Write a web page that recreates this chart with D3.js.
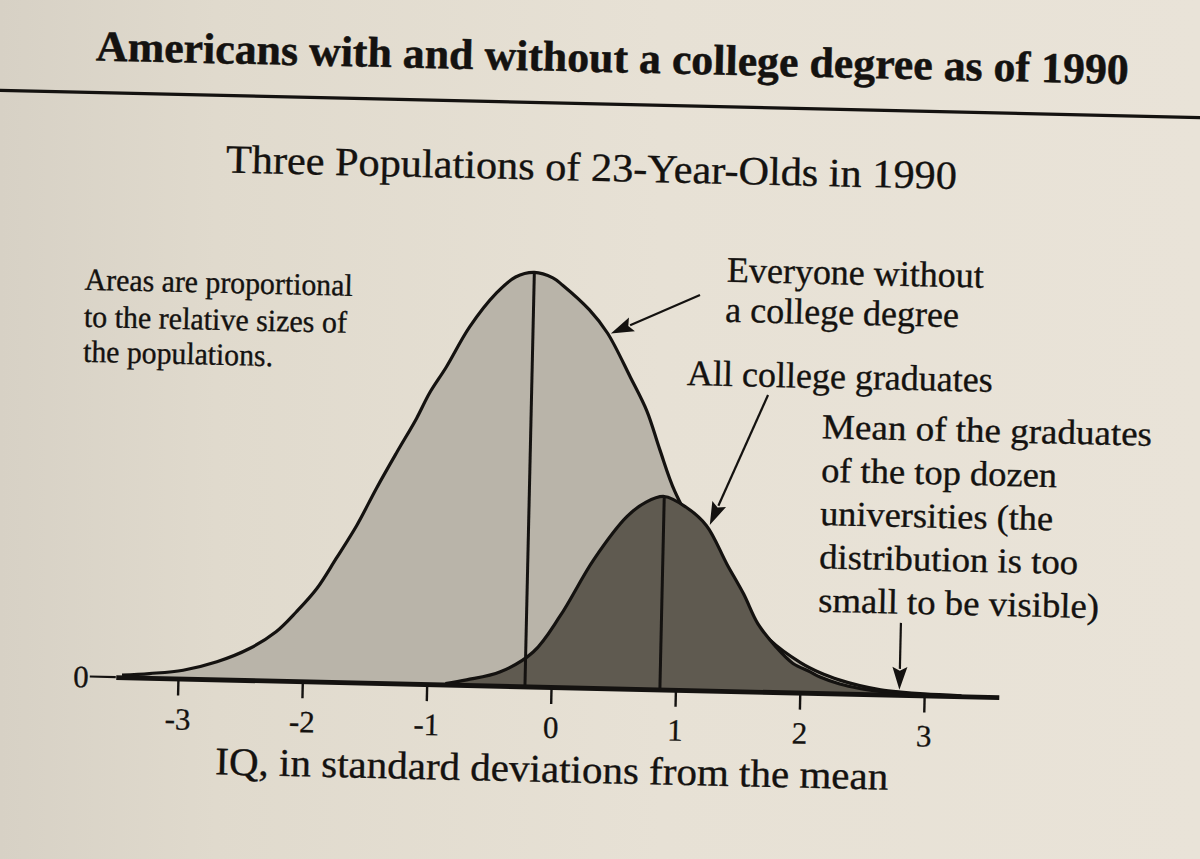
<!DOCTYPE html>
<html>
<head>
<meta charset="utf-8">
<script src="https://cdn.jsdelivr.net/npm/d3@7"></script>
<style>
  html, body { margin: 0; padding: 0; background: #e4ded2; }
  svg { display: block; }
</style>
</head>
<body>
<svg id="chart" width="1200" height="859"></svg>
<script>
// ---------------- DATA ----------------
const titleText = "Americans with and without a college degree as of 1990";
const subtitleText = "Three Populations of 23-Year-Olds in 1990";
const xAxisTitle = "IQ, in standard deviations from the mean";
const xTicks = [-3, -2, -1, 0, 1, 2, 3];
const tickLabels = ["-3", "-2", "-1", "0", "1", "2", "3"];

// Everyone without a college degree: IQ (SD units) and curve height (relative units)
const noDegreeX = [-3.45, -3.23, -2.96, -2.69, -2.43, -2.22, -2.06, -1.90, -1.75, -1.59, -1.44, -1.28, -1.13, -1.03, -0.90, -0.72, -0.51, -0.36, -0.21, -0.06, 0.02, 0.24, 0.39, 0.58, 0.72, 0.83, 0.96, 1.20, 1.50, 1.75, 2.00, 2.16, 2.32, 2.48, 2.65, 2.81, 3.00, 3.30];
const noDegreeY = [2, 4.3, 8.4, 17.6, 31.6, 48.9, 69.4, 93.1, 123.6, 157.3, 194.5, 231.6, 265.4, 291.1, 317.5, 358.1, 392.7, 409, 414, 409, 401.9, 377.8, 354.9, 311.7, 278, 240, 198, 145, 88, 52, 30, 20.3, 13.4, 8.3, 4.6, 2.8, 1.5, 0.5];

// All college graduates
const gradX = [-0.85, -0.68, -0.41, -0.15, 0.06, 0.32, 0.58, 0.73, 0.875, 1.05, 1.22, 1.39, 1.53, 1.65, 1.80, 1.94, 2.08, 2.16, 2.32, 2.48, 2.64, 2.80, 3.00, 3.20];
const gradY = [1, 5.2, 14, 34.5, 71.2, 128.3, 172.2, 187, 193, 183, 164.8, 127, 97.5, 68, 45.2, 29, 21, 16, 9.5, 5.5, 3, 1.5, 0.6, 0.2];

const means = [-0.21, 0.875];          // vertical mean lines: no degree, graduates
const meanHeights = [414, 193];
const topDozenMean = 2.8;              // mean of graduates of the top dozen universities

const noteLeft = ["Areas are proportional", "to the relative sizes of", "the populations."];
const noteNoDegree = ["Everyone without", "a college degree"];
const noteGrad = ["All college graduates"];
const noteTop = ["Mean of the graduates", "of the top dozen", "universities (the", "distribution is too", "small to be visible)"];

// ---------------- DRAWING ----------------
const svg = d3.select("#chart");
const W = 1200, H = 859;
const FONT = "'Liberation Serif', 'Times New Roman', 'DejaVu Serif', serif";
const INK = "#141210";

// paper background
const defs = svg.append("defs");
const grad = defs.append("linearGradient").attr("id", "paper").attr("x1", "0").attr("x2", "1").attr("y1", "0").attr("y2", "0");
grad.append("stop").attr("offset", "0%").attr("stop-color", "#d7d1c5");
grad.append("stop").attr("offset", "18%").attr("stop-color", "#e0dacd");
grad.append("stop").attr("offset", "55%").attr("stop-color", "#e7e1d5");
grad.append("stop").attr("offset", "100%").attr("stop-color", "#e9e3d8");
svg.append("rect").attr("width", W).attr("height", H).attr("fill", "url(#paper)");

// the page is photographed slightly tilted
const g = svg.append("g").attr("transform", "rotate(1.3, 600, 430)");

const zeroX = 556.9, unit = 124.4, baseY = 688;
const x = d3.scaleLinear().domain([-3.5, 3.6]).range([zeroX - 3.5 * unit, zeroX + 3.6 * unit]);
const y = d3.scaleLinear().domain([0, 414]).range([baseY, baseY - 414]);

const noDegree = noDegreeX.map((v, i) => [v, noDegreeY[i]]);
const grads = gradX.map((v, i) => [v, gradY[i]]);

const curve = d3.curveCatmullRom.alpha(0.5);
const area = d3.area().x(d => x(d[0])).y0(y(0)).y1(d => Math.min(y(0), y(d[1]))).curve(curve);
const line = d3.line().x(d => x(d[0])).y(d => y(d[1])).curve(curve);

function interp(xs, ys, v) {
  for (let i = 0; i < xs.length - 1; i++) {
    if (v >= xs[i] && v <= xs[i + 1]) {
      const t = (v - xs[i]) / (xs[i + 1] - xs[i]);
      return ys[i] + t * (ys[i + 1] - ys[i]);
    }
  }
  return 0;
}

// text helper: sets size, then fits to the measured width of the original
function addText(parent, str, opt) {
  const t = parent.append("text")
    .attr("x", opt.x).attr("y", opt.y)
    .attr("font-family", FONT)
    .attr("font-size", opt.size)
    .attr("font-weight", opt.weight || "normal")
    .attr("text-anchor", opt.anchor || "start")
    .attr("fill", INK)
    .attr("stroke", INK).attr("stroke-width", opt.sw == null ? 0.35 : opt.sw)
    .text(str);
  if (opt.width) {
    const w = t.node().getComputedTextLength();
    if (Math.abs(w - opt.width) / opt.width > 0.01) {
      t.attr("textLength", opt.width).attr("lengthAdjust", "spacingAndGlyphs");
    }
  }
  return t;
}

function arrow(parent, x1, y1, x2, y2) {
  const len = Math.hypot(x2 - x1, y2 - y1);
  const ux = (x2 - x1) / len, uy = (y2 - y1) / len;
  const hl = 23, hw = 7.5;
  const bx = x2 - ux * hl, by = y2 - uy * hl;
  parent.append("line").attr("x1", x1).attr("y1", y1).attr("x2", bx + ux * 2).attr("y2", by + uy * 2)
    .attr("stroke", INK).attr("stroke-width", 2.2);
  parent.append("path")
    .attr("d", `M${x2},${y2}L${bx - uy * hw},${by + ux * hw}L${bx + ux * 4},${by + uy * 4}L${bx + uy * hw},${by - ux * hw}Z`)
    .attr("fill", INK);
}

// titles
addText(g, titleText, { x: 87.5, y: 72, size: 43, weight: "bold", width: 1033, sw: 0.5 });
g.append("line").attr("x1", -30).attr("x2", 1230).attr("y1", 104).attr("y2", 104)
  .attr("stroke", INK).attr("stroke-width", 3.2);
addText(g, subtitleText, { x: 220, y: 181, size: 40, width: 731 });

// distributions
g.append("path").datum(noDegree).attr("d", area).attr("fill", "#b9b4a9");
g.append("path").datum(noDegree).attr("d", line).attr("fill", "none").attr("stroke", INK).attr("stroke-width", 3.2);
g.append("path").datum(grads).attr("d", area).attr("fill", "#5f5a50");
g.append("path").datum(grads).attr("d", line).attr("fill", "none").attr("stroke", INK).attr("stroke-width", 3.2);

// mean lines
g.selectAll("line.mean").data(means).join("line").attr("class", "mean")
  .attr("x1", d => x(d)).attr("x2", d => x(d))
  .attr("y1", y(0)).attr("y2", (d, i) => y(meanHeights[i]))
  .attr("stroke", INK).attr("stroke-width", 3);

// x axis
const axis = d3.axisBottom(x).tickValues(xTicks).tickSize(17).tickSizeOuter(0).tickPadding(12)
  .tickFormat((d, i) => tickLabels[i]);
const ax = g.append("g").attr("transform", `translate(0,${baseY})`).call(axis);
ax.select(".domain").attr("stroke", INK).attr("stroke-width", 4.8);
ax.selectAll(".tick line").attr("stroke", INK).attr("stroke-width", 2.4);
ax.selectAll(".tick text").attr("font-family", FONT).attr("font-size", 31).attr("fill", INK)
  .attr("stroke", INK).attr("stroke-width", 0.3);

// zero label on the left
g.append("text").attr("x", x(-3.5) - 27).attr("y", y(0)).attr("dy", "0.35em")
  .attr("text-anchor", "end").attr("font-family", FONT).attr("font-size", 31).attr("fill", INK)
  .attr("stroke", INK).attr("stroke-width", 0.3).text("0");
g.append("line").attr("x1", x(-3.5) - 26).attr("x2", x(-3.5)).attr("y1", y(0)).attr("y2", y(0))
  .attr("stroke", INK).attr("stroke-width", 2.2);

addText(g, xAxisTitle, { x: 223, y: 783, size: 39, width: 673 });

// annotations
const leftBase = [301.5, 338.5, 373.5], leftW = [268, 263, 190];
noteLeft.forEach((s, i) => addText(g, s, { x: 81.5, y: leftBase[i], size: 31, width: leftW[i] }));

const ndX = [723.3, 722.5], ndBase = [279, 319], ndW = [256, 233];
noteNoDegree.forEach((s, i) => addText(g, s, { x: ndX[i], y: ndBase[i], size: 36, width: ndW[i] }));
addText(g, noteGrad[0], { x: 685.7, y: 383, size: 36, width: 305 });

const topBase = [433.2, 476.7, 520, 563.3, 606.7], topW = [330, 236, 233, 259, 281];
noteTop.forEach((s, i) => addText(g, s, { x: 822, y: topBase[i], size: 35, width: topW[i] }));

// arrows
const a1x = 0.40;
arrow(g, 696.9, 292.7, x(a1x) + 2, y(interp(noDegreeX, noDegreeY, a1x)) - 2);
const a2x = 1.23;
arrow(g, 767.2, 391.2, x(a2x) + 2, y(interp(gradX, gradY, a2x)) - 3);
arrow(g, x(topDozenMean), 616, x(topDozenMean), y(0) - 5);
</script>
</body>
</html>
